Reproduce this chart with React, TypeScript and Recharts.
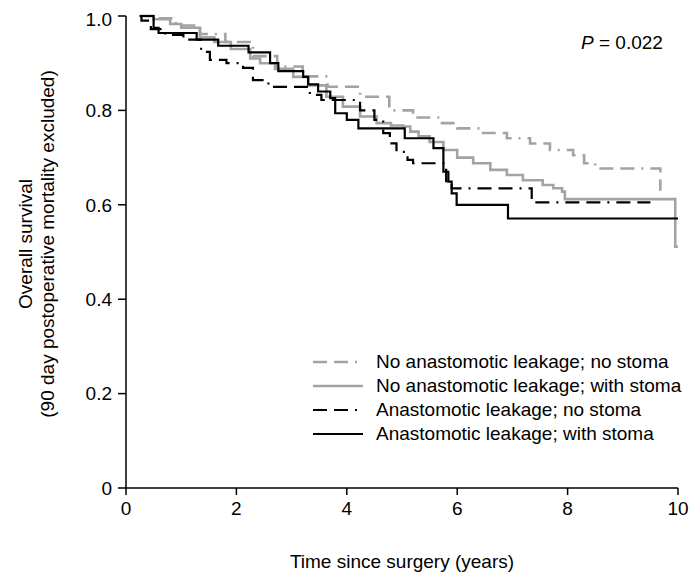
import React from 'react';
import { LineChart, Line, XAxis, YAxis, Legend } from 'recharts';

// ---- data ----
const xTicks = [0, 2, 4, 6, 8, 10];
const yTicks = [0, 0.2, 0.4, 0.6, 0.8, 1.0];

const seriesNames = [
  'No anastomotic leakage; no stoma',
  'No anastomotic leakage; with stoma',
  'Anastomotic leakage; no stoma',
  'Anastomotic leakage; with stoma',
];

// No anastomotic leakage; no stoma
const noLeakNoStomaT = [0.25, 0.55, 0.9, 1.34, 1.8, 2.3, 2.74, 3.2, 3.65, 4.24, 4.77, 5.2, 5.69, 6.0, 6.41, 6.9, 7.32, 7.68, 8.1, 8.3, 8.5, 9.67, 9.68];
const noLeakNoStomaS = [1.0, 0.995, 0.98, 0.962, 0.945, 0.915, 0.893, 0.872, 0.85, 0.829, 0.8, 0.785, 0.773, 0.762, 0.752, 0.741, 0.73, 0.716, 0.705, 0.688, 0.677, 0.677, 0.63];

// No anastomotic leakage; with stoma
const noLeakStomaT = [0.25, 0.5, 0.8, 1.0, 1.34, 1.6, 1.9, 2.25, 2.43, 2.7, 3.03, 3.3, 3.63, 3.93, 4.24, 4.54, 4.8, 5.02, 5.15, 5.3, 5.5, 5.75, 6.0, 6.29, 6.6, 6.9, 7.19, 7.55, 7.74, 7.9, 7.95, 9.92, 9.95, 10.0];
const noLeakStomaS = [1.0, 0.993, 0.983, 0.975, 0.955, 0.945, 0.93, 0.91, 0.9, 0.888, 0.871, 0.853, 0.829, 0.808, 0.787, 0.773, 0.768, 0.766, 0.755, 0.745, 0.733, 0.716, 0.7, 0.688, 0.674, 0.663, 0.652, 0.642, 0.635, 0.628, 0.612, 0.612, 0.511, 0.511];

// Anastomotic leakage; no stoma
const leakNoStomaT = [0.25, 0.28, 0.45, 0.71, 1.04, 1.36, 1.52, 1.82, 2.12, 2.3, 2.58, 3.33, 3.54, 4.24, 4.5, 4.66, 4.78, 4.9, 5.1, 5.2, 5.8, 5.9, 7.35, 9.5];
const leakNoStomaS = [1.0, 0.99, 0.972, 0.96, 0.95, 0.924, 0.907, 0.9, 0.89, 0.864, 0.85, 0.833, 0.822, 0.8, 0.78, 0.752, 0.73, 0.712, 0.695, 0.688, 0.65, 0.635, 0.605, 0.605];

// Anastomotic leakage; with stoma
const leakStomaT = [0.25, 0.5, 0.59, 1.28, 1.67, 2.22, 2.61, 2.76, 3.21, 3.3, 3.48, 3.7, 3.79, 4.0, 4.21, 5.05, 5.57, 5.75, 5.84, 5.9, 5.99, 6.92, 10.0];
const leakStomaS = [1.0, 0.975, 0.964, 0.95, 0.937, 0.923, 0.9, 0.883, 0.871, 0.855, 0.84, 0.826, 0.794, 0.78, 0.762, 0.741, 0.72, 0.67, 0.649, 0.624, 0.6, 0.571, 0.571];

const pValueLabel = '= 0.022';

const toRows = (t: number[], s: number[]) => t.map((v, i) => ({ t: v, s: s[i] }));

const GREY = '#a3a3a3';
const DASH = '14 7 14 7 2 7';

const styles = [
  { color: GREY, dash: DASH, width: 2.6 },
  { color: GREY, dash: undefined as string | undefined, width: 2.6 },
  { color: '#000', dash: DASH, width: 2.2 },
  { color: '#000', dash: undefined as string | undefined, width: 2.2 },
];

const seriesData = [
  toRows(noLeakNoStomaT, noLeakNoStomaS),
  toRows(noLeakStomaT, noLeakStomaS),
  toRows(leakNoStomaT, leakNoStomaS),
  toRows(leakStomaT, leakStomaS),
];

const FONT = '"Liberation Sans", Arial, sans-serif';
const FS = 19;

const YLabel = (props: any) => {
  const vb = props.viewBox || { x: 0, y: 0, width: 0, height: 0 };
  const cy = vb.y + vb.height / 2 - 8;
  return (
    <g>
      <text x={24} y={cy} transform={`rotate(-90, 24, ${cy})`} textAnchor="middle" fontSize={FS} fill="#000" fontFamily={FONT}>
        Overall survival
      </text>
      <text x={46} y={cy} transform={`rotate(-90, 46, ${cy})`} textAnchor="middle" fontSize={FS} fill="#000" fontFamily={FONT}>
        (90 day postoperative mortality excluded)
      </text>
    </g>
  );
};

const XLabel = (props: any) => {
  const vb = props.viewBox || { x: 0, y: 0, width: 0, height: 0 };
  return (
    <text x={vb.x + vb.width / 2} y={vb.y + 80} textAnchor="middle" fontSize={FS} fill="#000" fontFamily={FONT}>
      Time since surgery (years)
    </text>
  );
};

const LegendContent = () => (
  <div style={{ fontFamily: FONT, fontSize: FS, color: '#000' }}>
    {seriesNames.map((name, i) => (
      <div key={name} style={{ display: 'flex', alignItems: 'center', height: 24 }}>
        <svg width={52} height={10} style={{ display: 'block' }}>
          <line x1={0} y1={5} x2={50} y2={5} stroke={styles[i].color} strokeWidth={styles[i].width} strokeDasharray={styles[i].dash} />
        </svg>
        <span style={{ marginLeft: 11, whiteSpace: 'nowrap' }}>{name}</span>
      </div>
    ))}
  </div>
);

export default function App() {
  return (
    <div style={{ width: 691, height: 577, boxSizing: 'border-box', padding: '8px 0 0 8px', background: '#fff' }}>
      <style>{'body{margin:0}'}</style>
      <div style={{ position: 'relative', width: 683, height: 569, fontFamily: FONT }}>
        <LineChart width={683} height={569} margin={{ top: 8, right: 13, bottom: 59, left: 68 }}>
          <XAxis
            dataKey="t"
            type="number"
            domain={[0, 10]}
            ticks={xTicks}
            allowDuplicatedCategory={false}
            height={30}
            tickSize={7}
            tickMargin={7}
            axisLine={{ stroke: '#000', strokeWidth: 1.5 }}
            tickLine={{ stroke: '#000', strokeWidth: 1.5 }}
            tick={{ fontSize: FS, fill: '#000' }}
            label={<XLabel />}
          />
          <YAxis
            dataKey="s"
            type="number"
            domain={[0, 1]}
            ticks={yTicks}
            width={50}
            tickSize={8}
            tickMargin={6}
            axisLine={{ stroke: '#000', strokeWidth: 1.5 }}
            tickLine={{ stroke: '#000', strokeWidth: 1.5 }}
            tick={{ fontSize: FS, fill: '#000' }}
            tickFormatter={(v: number) => (v === 0 ? '0' : v.toFixed(1))}
            label={<YLabel />}
          />
          {seriesData.map((d, i) => (
            <Line
              key={seriesNames[i]}
              name={seriesNames[i]}
              data={d}
              dataKey="s"
              type="stepAfter"
              stroke={styles[i].color}
              strokeWidth={styles[i].width}
              strokeDasharray={styles[i].dash}
              dot={false}
              activeDot={false}
              isAnimationActive={false}
            />
          ))}
          <Legend
            layout="vertical"
            align="center"
            verticalAlign="middle"
            content={<LegendContent />}
            wrapperStyle={{ top: 342, left: 305, width: 370, height: 100 }}
          />
        </LineChart>
        <div style={{ position: 'absolute', left: 573, top: 24, fontSize: FS, color: '#000', whiteSpace: 'nowrap' }}>
          <i>P</i> {pValueLabel}
        </div>
      </div>
    </div>
  );
}
